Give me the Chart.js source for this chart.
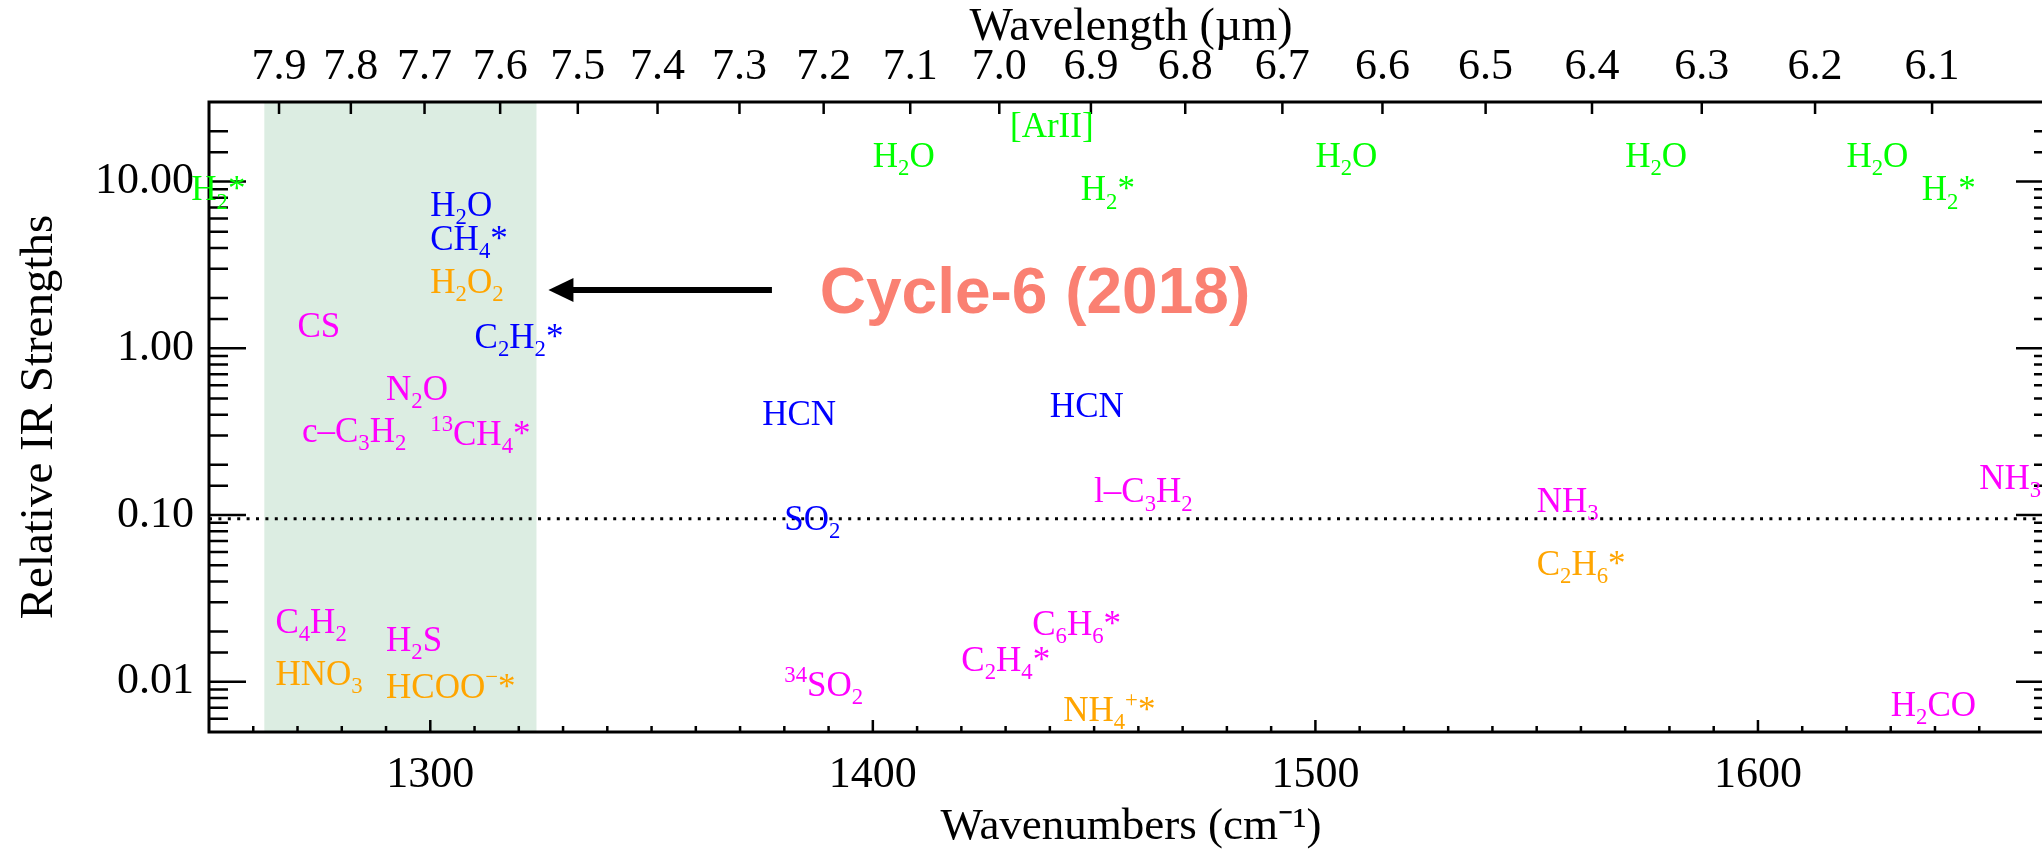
<!DOCTYPE html>
<html>
<head>
<meta charset="utf-8">
<title>Relative IR Strengths</title>
<script src="https://cdn.jsdelivr.net/npm/chart.js@4.4.1/dist/chart.umd.min.js"></script>
<style>
  html, body { margin: 0; padding: 0; background: #ffffff; overflow: hidden; }
  #plot { display: block; }
</style>
</head>
<body>
<canvas id="plot" width="2080" height="849"></canvas>
<script>
// ---- axis ranges -------------------------------------------------------
const wavenumberRange = [1250, 10000 / 6.0];          // cm^-1, right edge at 6.0 µm
const strengthRange = [0.005, 30];
const wavelengthTicks = [7.9, 7.8, 7.7, 7.6, 7.5, 7.4, 7.3, 7.2, 7.1, 7.0,
                         6.9, 6.8, 6.7, 6.6, 6.5, 6.4, 6.3, 6.2, 6.1];   // µm
const strengthThreshold = 0.095;
const cycle6Band = [1262.5, 1324];                     // cm^-1

// ---- band labels: name, wavenumber (cm^-1), relative strength -----------
// gas-phase emission lines
const emissionNames = ['H_2*', '[ArII]', 'H_2O', 'H_2*', 'H_2O', 'H_2O', 'H_2O', 'H_2*'];
const emissionWavenumbers = [1246, 1431, 1400, 1447, 1500, 1570, 1620, 1637];
const emissionStrengths = [7.7, 18.5, 12.3, 7.7, 12.3, 12.3, 12.3, 7.7];

// primary molecules
const primaryNames = ['H_2O', 'CH_4*', 'C_2H_2*', 'HCN', 'HCN', 'SO_2'];
const primaryWavenumbers = [1300, 1300, 1310, 1375, 1440, 1380];
const primaryStrengths = [6.2, 3.9, 1.0, 0.345, 0.385, 0.081];

// secondary molecules
const secondaryNames = ['CS', 'N_2O', 'c\u2013C_3H_2', '^{13}CH_4*', 'l\u2013C_3H_2', 'NH_3', 'NH_3',
                        'C_4H_2', 'H_2S', '^{34}SO_2', 'C_2H_4*', 'C_6H_6*', 'H_2CO'];
const secondaryWavenumbers = [1270, 1290, 1271, 1300, 1450, 1550, 1650,
                              1265, 1290, 1380, 1420, 1436, 1630];
const secondaryStrengths = [1.17, 0.49, 0.275, 0.262, 0.119, 0.104, 0.143,
                            0.0195, 0.0154, 0.0082, 0.0116, 0.0192, 0.0062];

// ices and ions
const iceNames = ['H_2O_2', 'C_2H_6*', 'HNO_3', 'HCOO^{\u2212}*', 'NH_4^{+}*'];
const iceWavenumbers = [1300, 1550, 1265, 1290, 1443];
const iceStrengths = [2.15, 0.044, 0.0096, 0.0080, 0.0058];

// ---- annotation --------------------------------------------------------
const cycleLabel = 'Cycle-6 (2018)';
const cycleAnchor = { x: 1388, y: 1.63 };
const arrowFrom = { x: 1377.2, y: 2.24 };
const arrowTo = { x: 1326.7, y: 2.24 };

const SERIF = '"Liberation Serif", "Times New Roman", serif';

function points(xs, ys) { return xs.map((x, i) => ({ x: x, y: ys[i] })); }

function isDecade(v) {
  const l = Math.log10(v);
  return Math.abs(l - Math.round(l)) < 1e-9;
}

// Split "C_2H_4*" / "^{13}CH_4*" into normal, subscript and superscript runs
function parseFormula(s) {
  const out = [];
  let buf = '';
  let i = 0;
  const flush = () => { if (buf) { out.push({ t: buf, m: 0 }); buf = ''; } };
  while (i < s.length) {
    const c = s[i];
    if (c === '_' || c === '^') {
      flush();
      const m = c === '_' ? 1 : 2;
      let t;
      if (s[i + 1] === '{') {
        const j = s.indexOf('}', i + 2);
        t = s.slice(i + 2, j);
        i = j + 1;
      } else {
        t = s[i + 1];
        i += 2;
      }
      out.push({ t: t, m: m });
    } else {
      buf += c;
      i++;
    }
  }
  flush();
  return out;
}

function drawFormula(ctx, text, x, y, size, color) {
  const runs = parseFormula(text);
  const small = size * 0.65;
  let cx = x;
  ctx.fillStyle = color;
  ctx.textAlign = 'left';
  ctx.textBaseline = 'alphabetic';
  runs.forEach(r => {
    const fs = r.m === 0 ? size : small;
    const dy = r.m === 1 ? size * 0.23 : (r.m === 2 ? -size * 0.40 : 0);
    ctx.font = fs + 'px ' + SERIF;
    ctx.fillText(r.t, cx, y + dy);
    cx += ctx.measureText(r.t).width;
  });
}

const decorations = {
  id: 'decorations',
  beforeDatasetsDraw(chart) {
    const { ctx, chartArea: a, scales: { x } } = chart;
    const x0 = x.getPixelForValue(cycle6Band[0]);
    const x1 = x.getPixelForValue(cycle6Band[1]);
    ctx.save();
    ctx.fillStyle = '#dcede2';
    ctx.fillRect(x0, a.top, x1 - x0, a.bottom - a.top);
    ctx.restore();
  },
  afterDatasetsDraw(chart) {
    const { ctx, chartArea: a, scales } = chart;
    const x = scales.x, x2 = scales.x2, y = scales.y;

    // inward tick marks and frame
    ctx.save();
    ctx.strokeStyle = '#000';
    ctx.lineCap = 'butt';
    ctx.lineWidth = 2.5;
    ctx.beginPath();
    y.ticks.forEach(t => {
      const py = y.getPixelForValue(t.value);
      if (py <= a.top + 1 || py >= a.bottom - 1) return;
      const len = isDecade(t.value) ? 37 : 19;
      ctx.moveTo(a.left, py); ctx.lineTo(a.left + len, py);
      ctx.moveTo(a.right, py); ctx.lineTo(a.right - len, py);
    });
    x.ticks.forEach(t => {
      const r = Math.round(t.value);
      if (Math.abs(t.value - r) > 1e-6 || r % 10 !== 0) return;
      const px = x.getPixelForValue(t.value);
      if (px <= a.left + 1 || px >= a.right - 1) return;
      const len = r % 100 === 0 ? 12 : 6;
      ctx.moveTo(px, a.bottom); ctx.lineTo(px, a.bottom - len);
    });
    x2.ticks.forEach(t => {
      const px = x2.getPixelForValue(t.value);
      ctx.moveTo(px, a.top); ctx.lineTo(px, a.top + 12);
    });
    ctx.stroke();
    ctx.lineWidth = 3;
    ctx.strokeRect(a.left, a.top, a.right - a.left, a.bottom - a.top);
    ctx.restore();

    // band labels at their (wavenumber, strength) points
    ctx.save();
    chart.data.datasets.forEach((ds, i) => {
      if (!ds.names) return;
      const meta = chart.getDatasetMeta(i);
      meta.data.forEach((pt, j) => drawFormula(ctx, ds.names[j], pt.x, pt.y, 35, ds.textColor));
    });
    ctx.restore();

    // arrow and cycle label
    ctx.save();
    const ax0 = x.getPixelForValue(arrowFrom.x), ay0 = y.getPixelForValue(arrowFrom.y);
    const ax1 = x.getPixelForValue(arrowTo.x), ay1 = y.getPixelForValue(arrowTo.y);
    const headLen = 25, headHalf = 12;
    ctx.strokeStyle = '#000';
    ctx.fillStyle = '#000';
    ctx.lineWidth = 6;
    ctx.beginPath();
    ctx.moveTo(ax0, ay0);
    ctx.lineTo(ax1 + headLen - 2, ay1);
    ctx.stroke();
    ctx.beginPath();
    ctx.moveTo(ax1, ay1);
    ctx.lineTo(ax1 + headLen, ay1 - headHalf);
    ctx.lineTo(ax1 + headLen, ay1 + headHalf);
    ctx.closePath();
    ctx.fill();

    const cx = x.getPixelForValue(cycleAnchor.x), cy = y.getPixelForValue(cycleAnchor.y);
    ctx.font = 'bold 64px "Liberation Sans", Arial, sans-serif';
    ctx.fillStyle = '#fa8072';
    ctx.textAlign = 'left';
    ctx.textBaseline = 'alphabetic';
    ctx.fillText(cycleLabel, cx, cy);
    ctx.restore();
  }
};

const labelDataset = (names, xs, ys, color) => ({
  type: 'scatter',
  data: points(xs, ys),
  names: names,
  textColor: color,
  pointRadius: 0,
  pointHoverRadius: 0,
  showLine: false,
  clip: false
});

const tickFont = { family: SERIF, size: 44 };

new Chart(document.getElementById('plot'), {
  type: 'scatter',
  data: {
    datasets: [
      {
        type: 'line',
        data: [{ x: wavenumberRange[0], y: strengthThreshold }, { x: wavenumberRange[1], y: strengthThreshold }],
        borderColor: '#000',
        borderWidth: 3,
        borderDash: [3, 6.4],
        borderCapStyle: 'butt',
        pointRadius: 0,
        fill: false
      },
      labelDataset(emissionNames, emissionWavenumbers, emissionStrengths, '#00ff00'),
      labelDataset(primaryNames, primaryWavenumbers, primaryStrengths, '#0000ff'),
      labelDataset(secondaryNames, secondaryWavenumbers, secondaryStrengths, '#ff00ff'),
      labelDataset(iceNames, iceWavenumbers, iceStrengths, '#ffa500')
    ]
  },
  options: {
    responsive: false,
    devicePixelRatio: 1,
    animation: false,
    events: [],
    layout: { padding: { left: 0, top: 0, bottom: 0, right: 27 } },
    plugins: { legend: { display: false }, tooltip: { enabled: false } },
    scales: {
      x: {
        type: 'linear',
        position: 'bottom',
        min: wavenumberRange[0],
        max: wavenumberRange[1],
        grid: { display: false, drawTicks: false },
        border: { display: false },
        ticks: {
          stepSize: 10,
          autoSkip: false,
          maxRotation: 0,
          minRotation: 0,
          padding: 17,
          color: '#000',
          font: tickFont,
          callback: v => (Math.abs(v % 100) < 1e-6 ? String(Math.round(v)) : '')
        },
        title: {
          display: true,
          text: 'Wavenumbers (cm\u207B\u00B9)',
          color: '#000',
          font: { family: SERIF, size: 45, lineHeight: 1 },
          padding: { top: 0, bottom: -1 }
        },
        afterFit: s => { s.height = 117; }
      },
      x2: {
        type: 'linear',
        position: 'top',
        min: wavenumberRange[0],
        max: wavenumberRange[1],
        grid: { display: false, drawTicks: false },
        border: { display: false },
        afterBuildTicks: s => { s.ticks = wavelengthTicks.map(l => ({ value: 10000 / l })); },
        ticks: {
          autoSkip: false,
          maxRotation: 0,
          minRotation: 0,
          padding: 8,
          color: '#000',
          font: tickFont,
          callback: v => (10000 / v).toFixed(1)
        },
        title: {
          display: true,
          text: 'Wavelength (\u00B5m)',
          color: '#000',
          font: { family: SERIF, size: 46, lineHeight: 1 },
          padding: { top: 5, bottom: 0 }
        },
        afterFit: s => { s.height = 102; }
      },
      y: {
        type: 'logarithmic',
        position: 'left',
        min: strengthRange[0],
        max: strengthRange[1],
        grid: { display: false, drawTicks: false },
        border: { display: false },
        ticks: {
          autoSkip: false,
          padding: 15,
          color: '#000',
          font: tickFont,
          callback: v => (isDecade(v) ? Number(v).toFixed(2) : '')
        },
        title: {
          display: true,
          text: 'Relative IR Strengths',
          color: '#000',
          font: { family: SERIF, size: 47 },
          padding: { top: 11, bottom: 0 }
        },
        afterFit: s => { s.width = 209; }
      }
    }
  },
  plugins: [decorations]
});
</script>
</body>
</html>
